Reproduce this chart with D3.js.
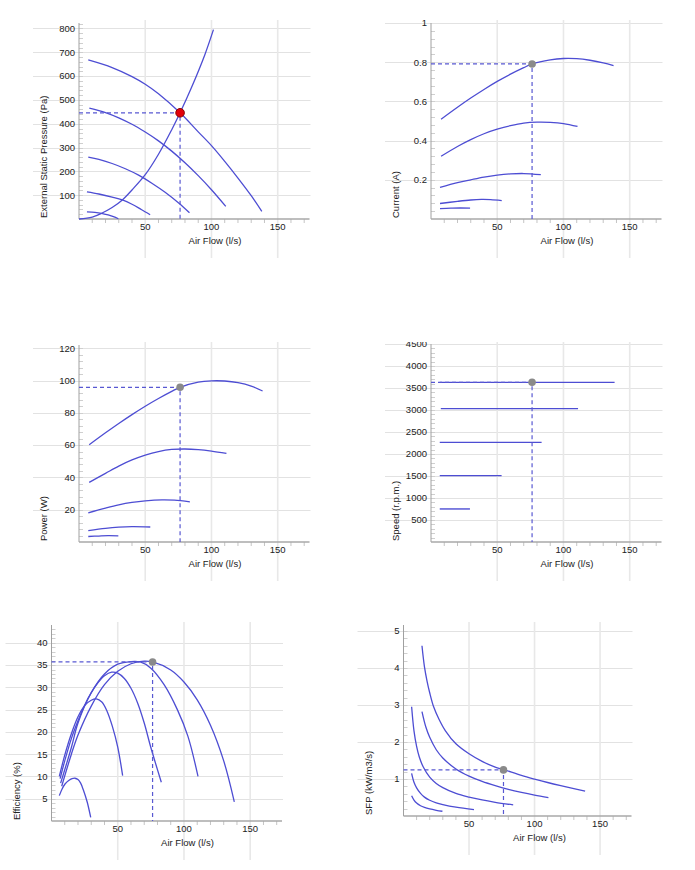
<!DOCTYPE html>
<html lang="en">
<head>
<meta charset="UTF-8">
<title>Fan Performance</title>
<script src="https://cdn.jsdelivr.net/npm/d3@7"></script>
<style>
  body { margin: 0; background: #fff; }
  svg { display: block; font-family: "Liberation Sans", Arial, sans-serif; }
</style>
</head>
<body>
<svg width="695" height="870"></svg>
<script>
// ---- data ----
const flowTicks = [50, 100, 150];
const dutyFlow = 76.3;

const pressureTicks = [100, 200, 300, 400, 500, 600, 700, 800];
const pressureCurves = [
  [[7,668],[25,636],[40,598],[50,566],[60,526],[76.3,446],[90,366],[100,308],[110,242],[120,172],[130,98],[138,32]],
  [[7.8,466],[20,447],[30,425],[40,398],[50,365],[60,328],[70,285],[80,236],[90,182],[100,123],[110.8,53]],
  [[7,260],[15,250],[25,233],[35,211],[45,184],[55,150],[65,112],[75,68],[83.4,26]],
  [[6,114],[15,105],[25,92],[32.7,80],[40,62],[47,40],[53.7,18]],
  [[6,30],[12,28],[17,24],[22,17],[26,10],[29.7,1]]
];
const systemCurve = [[0,0],[10,8],[17.1,24],[25,48],[32.7,80],[40,122],[50,186],[60,272],[70,375],[76.3,446],[85,553],[95,690],[101.5,795]];
const pressureDuty = 446;

const currentTicks = [0.2, 0.4, 0.6, 0.8, 1];
const currentCurves = [
  [[7.6,0.509],[20,0.57],[30,0.617],[40,0.661],[50,0.702],[60,0.739],[70,0.772],[76.3,0.791],[90,0.812],[100,0.819],[110,0.818],[120,0.81],[130,0.797],[137.8,0.783]],
  [[7.6,0.32],[20,0.37],[30,0.405],[40,0.435],[50,0.458],[60,0.476],[70,0.489],[80,0.494],[90,0.493],[100,0.487],[110.6,0.472]],
  [[6.8,0.161],[20,0.185],[30,0.2],[40,0.214],[50,0.224],[60,0.23],[70,0.232],[82.9,0.226]],
  [[6.8,0.079],[20,0.09],[30,0.097],[38,0.1],[45,0.099],[53.4,0.094]],
  [[6.8,0.053],[15,0.055],[22,0.056],[29.5,0.055]]
];
const currentDuty = 0.791;

const powerTicks = [20, 40, 60, 80, 100, 120];
const powerCurves = [
  [[7.7,60.2],[20,67.6],[30,73.4],[40,78.9],[50,84.1],[60,88.9],[70,93.3],[76.3,95.8],[90,99],[100,99.8],[110,99.7],[120,98.7],[130,96.6],[138.6,93.5]],
  [[7.7,36.9],[20,42.5],[30,47],[40,50.8],[50,53.8],[60,56],[70,57.3],[80,57.6],[90,57.2],[100,56.3],[111.3,54.9]],
  [[7,18.1],[20,21],[30,23],[40,24.5],[50,25.5],[62.7,26.1],[72,25.9],[83.7,24.9]],
  [[7,7.1],[20,8.5],[30,9.2],[40,9.5],[53.8,9.3]],
  [[7,3.4],[15,3.7],[22,3.9],[29.7,3.8]]
];
const powerDuty = 95.8;

const speedTicks = [500, 1000, 1500, 2000, 2500, 3000, 3500, 4000, 4500];
const speedCurves = [
  [[6.6,3630],[138.6,3630]],
  [[7.4,3030],[111,3030]],
  [[6.6,2265],[83.5,2265]],
  [[6.6,1508],[53.3,1508]],
  [[6.6,750],[29.4,750]]
];
const speedDuty = 3630;

const effTicks = [5, 10, 15, 20, 25, 30, 35, 40];
const effCurves = [
  [[7.7,7.8],[15,15],[20,19.3],[30,25.8],[40,30.6],[50,33.6],[60,35.3],[70,35.9],[76.3,35.7],[90,33.9],[100,31.2],[110,27.2],[120,21.5],[130,13.5],[138,4.3]],
  [[6.9,8.5],[15,16.5],[20,22],[30,28.8],[40,33],[50,35.2],[60,35.8],[67,35.7],[75,34.3],[85,30.6],[95,25],[103,19],[110.6,10]],
  [[6.5,9.5],[10,13.5],[15,18.5],[20,22.5],[25,26],[30,28.8],[35,31],[40,32.6],[45.4,33.4],[50,33.2],[55,32],[60,29.8],[65,26.5],[70,22],[75,16.5],[82.9,8.7]],
  [[5.9,10],[10,14.8],[15,19.6],[20,23.4],[25,25.9],[30,27.1],[33.8,27.4],[38,26.7],[42,24.6],[46,21.2],[50,16.6],[53.7,10.2]],
  [[5.9,5.7],[8,7.2],[10.2,8.3],[13,9.1],[15.5,9.5],[17.7,9.6],[20,9.3],[22,8.5],[24,7],[27,4.2],[29.6,0.8]]
];
const effDuty = 35.7;

const sfpTicks = [1, 2, 3, 4, 5];
const sfpCurves = [
  [[14.1,4.6],[16,4.03],[18,3.64],[20,3.33],[23,2.95],[27,2.62],[32,2.3],[40,1.95],[50,1.68],[60,1.475],[70,1.32],[76.3,1.255],[90,1.098],[100,0.998],[110,0.905],[120,0.82],[130,0.74],[138.6,0.675]],
  [[14.1,2.82],[17,2.41],[20,2.125],[25,1.79],[30,1.567],[40,1.27],[50,1.076],[60,0.933],[70,0.819],[80,0.72],[90,0.636],[100,0.563],[110.6,0.496]],
  [[6.2,2.95],[8,2.3],[10,1.88],[12,1.6],[15,1.33],[20,1.05],[25,0.88],[30,0.767],[40,0.61],[50,0.51],[60,0.433],[70,0.371],[83.7,0.298]],
  [[6.2,1.15],[8,0.91],[10,0.76],[13,0.61],[16,0.51],[20,0.425],[25,0.356],[30,0.31],[40,0.24],[53.8,0.173]],
  [[6.2,0.545],[8,0.43],[10,0.35],[13,0.277],[16,0.231],[20,0.19],[25,0.154],[29.7,0.128]]
];
const sfpDuty = 1.245;

// ---- layout ----
const panels = [
  {x0: 79,    y0: 23,  w: 230.5, h: 196, yMax: 823,  ticks: pressureTicks, minor: 20,   title: "External Static Pressure (Pa)", curves: pressureCurves.concat([systemCurve]), duty: pressureDuty, red: true},
  {x0: 431,   y0: 23,  w: 230.5, h: 196, yMax: 1,    ticks: currentTicks,  minor: 0.04, title: "Current (A)",   curves: currentCurves, duty: currentDuty},
  {x0: 79,    y0: 345, w: 230.5, h: 197, yMax: 122,  ticks: powerTicks,    minor: 4,    title: "Power (W)",     curves: powerCurves,   duty: powerDuty},
  {x0: 431,   y0: 344, w: 230.5, h: 198, yMax: 4500, ticks: speedTicks,    minor: 100,  title: "Speed (r.p.m.)", curves: speedCurves,  duty: speedDuty, clipTop: 342},
  {x0: 51.5,  y0: 625, w: 230.5, h: 196, yMax: 44,   ticks: effTicks,      minor: 1,    title: "Efficiency (%)", curves: effCurves,    duty: effDuty},
  {x0: 403.5, y0: 625, w: 228,   h: 191, yMax: 5.16, ticks: sfpTicks,      minor: 0.2,  title: "SFP (kW/m3/s)", curves: sfpCurves,     duty: sfpDuty}
];

const lineColor = "#4d4dd3";
const dashColor = "#5858d2";
const svg = d3.select("svg");
const defs = svg.append("defs");

panels.forEach((p, i) => {
  const x = d3.scaleLinear().domain([0, 174]).range([p.x0, p.x0 + p.w]);
  const y = d3.scaleLinear().domain([0, p.yMax]).range([p.y0 + p.h, p.y0]);
  const bottom = p.y0 + p.h;

  const g = svg.append("g");
  if (p.clipTop) {
    defs.append("clipPath").attr("id", "clip" + i)
      .append("rect").attr("x", p.x0 - 90).attr("y", p.clipTop).attr("width", p.w + 100).attr("height", 300);
    g.attr("clip-path", `url(#clip${i})`);
  }

  // gridlines
  g.selectAll(".hg").data(p.ticks).join("line")
    .attr("x1", p.x0 - 46).attr("x2", p.x0 + p.w + 1)
    .attr("y1", d => Math.round(y(d)) + 0.5).attr("y2", d => Math.round(y(d)) + 0.5)
    .attr("stroke", "#e2e2e2").attr("stroke-width", 1);
  g.selectAll(".vg").data(flowTicks).join("line")
    .attr("x1", d => x(d)).attr("x2", d => x(d))
    .attr("y1", p.y0 - 3).attr("y2", bottom + 39)
    .attr("stroke", "#e8e8e8").attr("stroke-width", 1.6);

  // minor ticks
  g.selectAll(".ym").data(d3.range(p.minor, p.yMax, p.minor)).join("line")
    .attr("x1", p.x0).attr("x2", p.x0 + 4)
    .attr("y1", d => Math.round(y(d)) + 0.5).attr("y2", d => Math.round(y(d)) + 0.5)
    .attr("stroke", "#cfcfcf");
  g.selectAll(".xm").data(d3.range(10, 171, 10).filter(d => d % 50)).join("line")
    .attr("x1", d => x(d)).attr("x2", d => x(d))
    .attr("y1", bottom).attr("y2", bottom + 4)
    .attr("stroke", "#c4c4c4");

  // axis lines
  g.append("line").attr("x1", p.x0).attr("x2", p.x0).attr("y1", p.y0).attr("y2", bottom)
    .attr("stroke", "#a0a0a0").attr("stroke-width", 1);
  g.append("line").attr("x1", p.x0).attr("x2", p.x0 + p.w).attr("y1", bottom).attr("y2", bottom)
    .attr("stroke", "#a8a8a8").attr("stroke-width", 1.6);

  // tick labels
  g.selectAll(".yl").data(p.ticks).join("text")
    .attr("x", p.x0 - 4).attr("y", d => y(d)).attr("dy", "0.35em")
    .attr("text-anchor", "end").attr("font-size", 9.5).attr("fill", "#222")
    .text(d => d);
  g.selectAll(".xl").data(flowTicks).join("text")
    .attr("x", d => x(d)).attr("y", bottom + 10.5)
    .attr("text-anchor", "middle").attr("font-size", 9.5).attr("fill", "#222")
    .text(d => d);

  // axis titles
  g.append("text").attr("x", p.x0 + 136).attr("y", bottom + 25.3)
    .attr("text-anchor", "middle").attr("font-size", 9.5).attr("fill", "#222")
    .text("Air Flow (l/s)");
  g.append("text")
    .attr("transform", `translate(${p.x0 - 31.6},${bottom - 1}) rotate(-90)`)
    .attr("font-size", 9.5).attr("fill", "#222")
    .text(p.title);

  // curves
  const line = d3.line().x(d => x(d[0])).y(d => y(d[1])).curve(d3.curveCatmullRom.alpha(0.5));
  g.selectAll(".c").data(p.curves).join("path")
    .attr("d", line).attr("fill", "none")
    .attr("stroke", lineColor).attr("stroke-width", 1.3);

  // duty point guides
  g.append("path")
    .attr("d", `M${p.x0},${y(p.duty)}H${x(dutyFlow)}V${bottom}`)
    .attr("fill", "none").attr("stroke", dashColor).attr("stroke-width", 1.2)
    .attr("stroke-dasharray", "4,3");
  g.append("circle").attr("cx", x(dutyFlow)).attr("cy", y(p.duty))
    .attr("r", p.red ? 4.3 : 3.8)
    .attr("fill", p.red ? "#e3000b" : "#8a8a8a")
    .attr("stroke", p.red ? "#8a0000" : "none").attr("stroke-width", 1);
});
</script>
</body>
</html>
